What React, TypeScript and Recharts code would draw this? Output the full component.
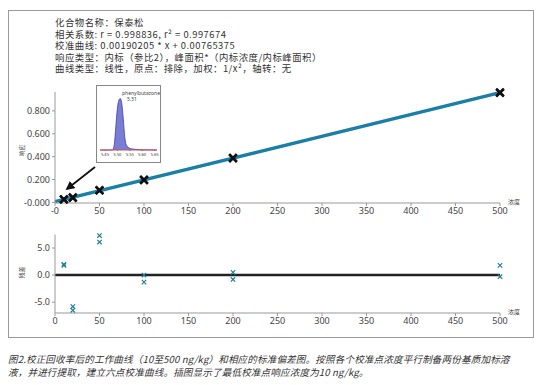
import React from 'react'
import {
  ComposedChart, Line, Scatter, XAxis, YAxis, ReferenceLine, AreaChart, Area,
} from 'recharts'

// calibration levels (ng/kg), two replicates each
const concA = [10, 20, 50, 100, 200, 500]
const respA = [0.027, 0.043, 0.105, 0.198, 0.389, 0.962]
const respB = [0.027, 0.041, 0.107, 0.195, 0.386, 0.957]
const residA = [1.8, -5.8, 7.3, 0.0, 0.5, 1.8]
const residB = [2.0, -6.5, 6.1, -1.3, -0.8, -0.3]

const slope = 0.00190205
const intercept = 0.00765375
const fitX = [0, 500]

const xTicks = [0, 50, 100, 150, 200, 250, 300, 350, 400, 450, 500]
const yTicksTop = [0, 0.2, 0.4, 0.6, 0.8]
const yTicksBottom = [-5, 0, 5]

// inset chromatogram
const peakTime = [5.43, 5.48, 5.487, 5.493, 5.5, 5.507, 5.512, 5.518, 5.524, 5.53, 5.536, 5.545, 5.56, 5.6, 5.66]
const peakInt = [0, 0, 8, 40, 80, 98, 100, 90, 60, 25, 10, 5, 2, 0.5, 0]
const insetTicks = [5.45, 5.5, 5.55, 5.6, 5.65]

const headerLines = [
  '化合物名称：保泰松',
  '相关系数: r = 0.998836, r² = 0.997674',
  '校准曲线: 0.00190205 * x + 0.00765375',
  '响应类型：内标（参比2），峰面积*（内标浓度/内标峰面积）',
  '曲线类型：线性，原点：排除，加权：1/x²，轴转：无',
]
const captionLines = [
  '图2.校正回收率后的工作曲线（10至500 ng/kg）和相应的标准偏差图。按照各个校准点浓度平行制备两份基质加标溶',
  '液，并进行提取，建立六点校准曲线。插图显示了最低校准点响应浓度为10 ng/kg。',
]

const ptsTop = concA.flatMap((c, i) => [{ x: c, y: respA[i] }, { x: c, y: respB[i] }])
const ptsRes = concA.flatMap((c, i) => [{ x: c, y: residA[i] }, { x: c, y: residB[i] }])
const fitLine = fitX.map(x => ({ x, y: slope * x + intercept }))
const peakData = peakTime.map((t, i) => ({ t, v: peakInt[i] }))

const CJK = '"Noto Sans CJK SC", "Noto Sans", sans-serif'
const tickStyle = { fontSize: 9, fill: '#444', fontFamily: '"Noto Sans", sans-serif' }

const BigX = (p: any) => {
  const { cx, cy } = p
  const s = 3.8
  return (
    <path d={`M${cx - s},${cy - s}L${cx + s},${cy + s}M${cx - s},${cy + s}L${cx + s},${cy - s}`}
      stroke="#111" strokeWidth={2.4} fill="none" />
  )
}
const SmallX = (p: any) => {
  const { cx, cy } = p
  const s = 2.2
  return (
    <path d={`M${cx - s},${cy - s}L${cx + s},${cy + s}M${cx - s},${cy + s}L${cx + s},${cy - s}`}
      stroke="#1f7f9c" strokeWidth={1.2} fill="none" />
  )
}

export default function App() {
  return (
    <div style={{ position: 'absolute', left: 0, top: 0, width: 543, height: 385, background: '#fff', fontFamily: CJK }}>
      <div style={{ position: 'absolute', left: 8, top: 10, width: 526, height: 328, border: '1.5px solid #9a9a9a', boxSizing: 'border-box' }} />

      <div style={{ position: 'absolute', left: 55, top: 17, fontSize: 9.4, lineHeight: '11.6px', letterSpacing: 0.5, color: '#333', whiteSpace: 'pre' }}>
        {headerLines.join('\n')}
      </div>

      <div style={{ position: 'absolute', left: 0, top: 0 }}>
        <ComposedChart width={543} height={230} margin={{ top: 92, right: 43, bottom: 7, left: 10 }}>
          <XAxis type="number" dataKey="x" domain={[0, 500]} ticks={xTicks}
            tickFormatter={(v: number) => (v === 0 ? '-0' : String(v))}
            tick={tickStyle} tickSize={3} stroke="#999" height={20} />
          <YAxis type="number" dataKey="y" domain={[-0.005, 0.965]} ticks={yTicksTop}
            tickFormatter={(v: number) => (v === 0 ? '-0.000' : v.toFixed(3))}
            tick={tickStyle} tickSize={3} stroke="#999" width={45} />
          <Line data={fitLine} dataKey="y" stroke="#1a7ea6" strokeWidth={3.4} dot={false} isAnimationActive={false} />
          <Scatter data={ptsTop} dataKey="y" shape={BigX} isAnimationActive={false} />
        </ComposedChart>
      </div>

      <div style={{ position: 'absolute', left: 0, top: 225 }}>
        <ComposedChart width={543} height={110} margin={{ top: 9.5, right: 43, bottom: 2, left: 10 }}>
          <XAxis type="number" dataKey="x" domain={[0, 500]} ticks={xTicks}
            tick={tickStyle} tickSize={3} stroke="#999" height={20} />
          <YAxis type="number" dataKey="y" domain={[-7, 7.5]} ticks={yTicksBottom}
            tickFormatter={(v: number) => v.toFixed(1)}
            tick={tickStyle} tickSize={3} stroke="#999" width={45} />
          <ReferenceLine y={0} stroke="#222" strokeWidth={2.5} />
          <Scatter data={ptsRes} dataKey="y" shape={SmallX} isAnimationActive={false} />
        </ComposedChart>
      </div>

      {/* axis titles */}
      <div style={{ position: 'absolute', left: 15, top: 146, fontSize: 6, color: '#444', transform: 'rotate(-90deg)' }}>响应</div>
      <div style={{ position: 'absolute', left: 15, top: 268, fontSize: 6, color: '#444', transform: 'rotate(-90deg)' }}>残差</div>
      <div style={{ position: 'absolute', left: 508, top: 197, fontSize: 6, color: '#444' }}>浓度</div>
      <div style={{ position: 'absolute', left: 508, top: 307, fontSize: 6, color: '#444' }}>浓度</div>

      {/* inset chromatogram */}
      <div style={{ position: 'absolute', left: 96, top: 85, width: 65, height: 78, border: '1px solid #888', background: '#fff', boxSizing: 'border-box' }}>
        <AreaChart width={63} height={76} data={peakData} margin={{ top: 10, right: 3, bottom: 0, left: 3 }}>
          <XAxis type="number" dataKey="t" domain={[5.43, 5.66]} ticks={insetTicks}
            tickFormatter={(v: number) => v.toFixed(2)}
            tick={{ fontSize: 4.2, fill: '#333' }} tickSize={1} stroke="#d05050" height={12} />
          <YAxis hide domain={[0, 105]} />
          <Area type="monotone" dataKey="v" stroke="#3b3f9c" strokeWidth={0.8} fill="#6a6fd0" fillOpacity={0.9} isAnimationActive={false} />
        </AreaChart>
        <div style={{ position: 'absolute', left: 25, top: 4, fontSize: 5, color: '#444', whiteSpace: 'nowrap', fontFamily: '"Noto Sans", sans-serif' }}>phenylbutazone</div>
        <div style={{ position: 'absolute', left: 30, top: 10, fontSize: 5, color: '#444', fontFamily: '"Noto Sans", sans-serif' }}>5.51</div>
      </div>

      {/* arrow annotation */}
      <svg style={{ position: 'absolute', left: 0, top: 0 }} width={543} height={385}>
        <defs>
          <marker id="ah" viewBox="0 0 10 10" refX="8" refY="5" markerWidth="5" markerHeight="5" orient="auto">
            <path d="M0,0L10,5L0,10z" fill="#111" />
          </marker>
        </defs>
        <line x1={95} y1={167} x2={67} y2={189} stroke="#111" strokeWidth={1.8} markerEnd="url(#ah)" />
      </svg>

      <div style={{ position: 'absolute', left: 8, top: 353, fontSize: 9.6, lineHeight: '12.5px', letterSpacing: 0.12, color: '#333', whiteSpace: 'pre', fontStyle: 'italic' }}>
        {captionLines.join('\n')}
      </div>
    </div>
  )
}
